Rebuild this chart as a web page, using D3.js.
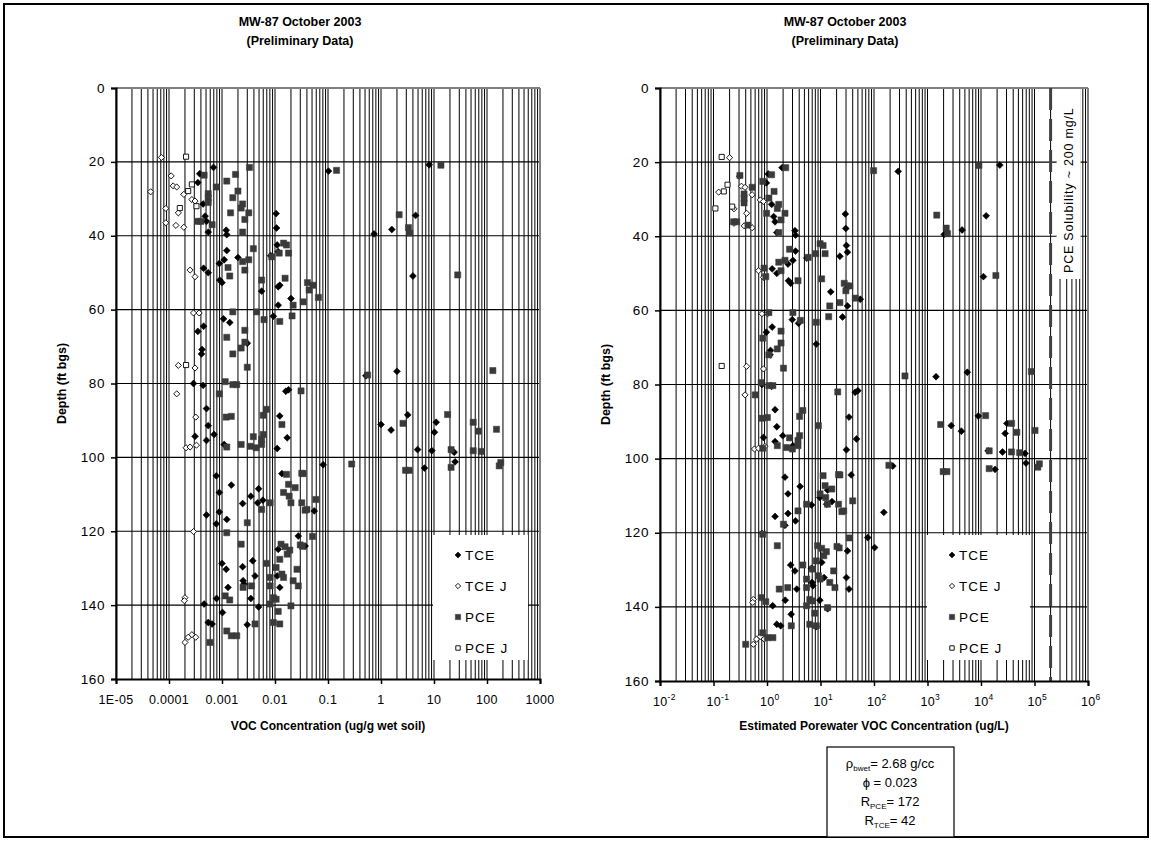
<!DOCTYPE html>
<html>
<head>
<meta charset="utf-8">
<script src="https://cdn.jsdelivr.net/npm/d3@7"></script>
<style>
  body { margin: 0; background: #fff; }
  svg { display: block; font-family: "Liberation Sans", Arial, sans-serif; }
</style>
</head>
<body>
<svg id="chart" width="1151" height="842"></svg>
<script>
// soil concentrations: [ug/g wet soil, depth ft]
const tce = [
  [3.8e-4, 23.2], [3.5e-4, 25.6], [4.4e-4, 31.4], [4.8e-4, 34.7], [5.1e-4, 36.1], [5.5e-4, 39.0],
  [6.9e-4, 21.5], [1.2e-3, 38.5], [1.23e-3, 39.7], [1.23e-3, 44.0], [2.0e-3, 45.9], [1.1e-3, 46.5],
  [8.9e-4, 47.5], [9.1e-4, 52.0], [1.0e-3, 52.7], [4.5e-4, 48.8], [5.5e-4, 50.0], [1.05e-2, 34.0],
  [1.07e-2, 37.9], [1.1e-2, 42.5], [1.15e-2, 44.3], [8.3e-3, 45.4], [1.23e-2, 53.4], [1.15e-2, 53.8],
  [5.6e-3, 55.0], [2.0e-2, 57.0], [1.15e-2, 58.8], [9.3e-3, 61.8], [1.07e-3, 62.5], [1.4e-3, 63.5],
  [4.5e-4, 64.5], [3.5e-4, 65.9], [3.0e-3, 69.1], [0.102, 22.5], [8.1, 20.8], [4.5, 34.5],
  [1.6, 38.3], [0.74, 39.5], [4.0, 50.9], [2.0, 76.7], [0.52, 77.9], [1.0, 91.1],
  [1.55, 92.6], [3.2, 88.5], [11, 90.5], [10.2, 93.2], [4.9, 97.9], [9.1, 98.2],
  [24, 98.6], [25, 101.2], [6.6, 102.9], [0.081, 102.0], [0.055, 114.5], [4.2e-4, 70.8],
  [4.1e-4, 72.0], [2.9e-4, 80.0], [4.4e-4, 80.5], [5.1e-4, 86.8], [5.5e-4, 91.4], [7.1e-4, 93.8],
  [3.1e-4, 94.3], [5.1e-4, 95.4], [1.1e-3, 96.5], [7.8e-4, 105.0], [1.5e-3, 107.5], [8.9e-4, 109.5],
  [2.45e-3, 112.5], [3.5e-3, 110.5], [4.9e-3, 108.5], [4.7e-3, 112.3], [5.9e-3, 111.6], [5.1e-4, 115.6],
  [8.9e-4, 114.8], [1.23e-3, 116.8], [7.8e-4, 118.0], [1.35e-2, 104.4], [1.1e-2, 97.6], [1.23e-2, 88.8],
  [1.7e-2, 94.7], [1.6e-2, 82.1], [1.8e-2, 81.7], [2.75e-2, 121.3], [3.7e-2, 124.0], [1.15e-2, 124.9],
  [1.23e-2, 135.2], [1.1e-2, 132.1], [1.0e-3, 128.7], [1.2e-3, 130.3], [1.3e-3, 135.2], [2.45e-3, 129.6],
  [2.5e-3, 133.4], [2.6e-3, 134.3], [3.8e-3, 128.0], [4.2e-3, 132.1], [4.9e-3, 140.5], [3.5e-3, 138.2],
  [4.6e-4, 139.7], [7.9e-4, 138.2], [1.02e-3, 142.0], [5.5e-4, 144.7], [6.5e-4, 145.1], [3.0e-3, 145.3]
];
const tceJ = [
  [7.2e-5, 18.8], [1.1e-4, 23.8], [4.5e-5, 28.1], [1.2e-4, 26.5], [1.4e-4, 26.8], [1.9e-4, 28.8],
  [2.7e-4, 30.2], [3.1e-4, 30.6], [1.5e-4, 33.8], [8.7e-5, 32.6], [8.7e-5, 36.5], [1.35e-4, 37.2],
  [1.9e-4, 37.7], [2.5e-4, 49.3], [3.1e-4, 51.1], [2.9e-4, 60.9], [3.7e-4, 60.9], [1.5e-4, 75.1],
  [3.1e-4, 75.8], [1.4e-4, 82.8], [3.2e-4, 89.1], [2.1e-4, 97.4], [2.5e-4, 97.2], [3.3e-4, 96.7],
  [2.9e-4, 120.1], [2.0e-4, 138.0], [1.95e-4, 138.8], [2.0e-4, 150.1], [2.3e-4, 148.7], [2.7e-4, 148.0],
  [3.2e-4, 148.7]
];
const pce = [
  [4.6e-4, 23.6], [5.5e-4, 28.6], [5.5e-4, 29.8], [5.5e-4, 31.0], [7.8e-4, 26.8], [1.23e-3, 25.2],
  [1.8e-3, 23.4], [3.3e-3, 21.5], [2.0e-3, 27.9], [1.6e-3, 29.7], [2.45e-3, 31.4], [2.3e-3, 32.5],
  [1.45e-3, 33.8], [3.2e-3, 33.8], [2.7e-3, 35.6], [3.5e-4, 36.1], [4.0e-4, 36.1], [6.5e-4, 37.0],
  [2.45e-3, 39.0], [3.9e-3, 43.5], [2.45e-3, 47.0], [3.2e-3, 46.5], [2.7e-3, 49.3], [1.3e-3, 48.6],
  [1.4e-3, 50.9], [8.7e-3, 45.7], [1.2e-2, 44.7], [1.45e-2, 42.0], [1.65e-2, 42.5], [1.8e-2, 44.7],
  [1.55e-2, 51.5], [5.6e-3, 52.0], [4.1e-2, 52.7], [5.2e-2, 53.4], [4.4e-2, 54.7], [6.6e-2, 56.7],
  [3.4e-2, 57.9], [2.2e-2, 58.8], [2.1e-2, 61.7], [1.23e-2, 63.2], [6.2e-3, 62.7], [4.5e-3, 60.6],
  [1.6e-3, 60.6], [1.23e-3, 67.5], [2.7e-3, 65.6], [2.7e-3, 68.8], [0.145, 22.3], [13.5, 20.9],
  [2.2, 34.3], [3.3, 37.8], [3.5, 39.3], [28, 50.6], [3.1e-2, 82.0], [0.56, 77.7],
  [129, 76.5], [2.6, 90.8], [18, 88.4], [55, 90.5], [69, 92.9], [151, 92.4],
  [21, 97.9], [55, 98.2], [78, 98.4], [21, 102.7], [182, 101.4], [170, 102.3],
  [2.9, 103.5], [3.4, 103.5], [0.28, 101.8], [3.2e-2, 104.3], [3.2e-2, 112.3], [3.7e-2, 114.3],
  [5.9e-2, 111.4], [5.1e-2, 121.4], [3.3e-2, 124.1], [1.6e-3, 72.0], [2.3e-3, 70.4], [3.0e-3, 75.6],
  [1.15e-3, 79.5], [8.9e-4, 82.8], [1.6e-3, 80.3], [1.9e-3, 80.3], [1.2e-3, 89.1], [1.5e-3, 88.9],
  [6.9e-3, 87.0], [6.0e-3, 88.6], [1.35e-2, 91.1], [3.9e-3, 94.4], [6.0e-3, 93.8], [5.6e-3, 95.1],
  [2.3e-3, 96.5], [1.23e-3, 97.2], [3.4e-3, 97.0], [4.4e-3, 97.4], [5.6e-3, 96.5], [3.4e-2, 104.4],
  [1.65e-2, 104.6], [1.8e-2, 107.3], [2.4e-2, 108.2], [1.45e-2, 109.5], [1.85e-2, 110.5], [8.1e-3, 112.3],
  [5.6e-3, 114.1], [2.0e-2, 112.3], [4.0e-2, 114.1], [3.0e-3, 117.7], [1.23e-3, 120.4], [3.0e-2, 123.7],
  [1.3e-2, 123.5], [1.55e-2, 124.2], [1.9e-2, 125.1], [1.7e-2, 126.2], [1.23e-2, 127.6], [1.05e-2, 129.8],
  [1.35e-2, 131.6], [1.45e-2, 132.5], [2.2e-2, 133.4], [2.6e-2, 130.3], [2.75e-2, 134.8], [2.0e-2, 140.2],
  [8.1e-3, 132.5], [6.9e-3, 128.7], [8.1e-3, 134.8], [9.3e-3, 138.0], [1.05e-2, 138.4], [8.1e-3, 139.7],
  [1.15e-2, 141.7], [9.3e-3, 144.7], [1.23e-2, 145.1], [3.6e-3, 134.8], [2.5e-3, 135.2], [4.2e-3, 145.1],
  [2.3e-3, 123.5], [1.15e-3, 137.5], [1.4e-3, 138.6], [1.23e-3, 147.0], [1.5e-3, 148.3], [1.9e-3, 148.3],
  [5.9e-4, 150.1]
];
const pceJ = [
  [2.1e-4, 18.6], [2.7e-4, 26.1], [2.3e-4, 27.9], [3.3e-4, 32.0], [1.6e-4, 32.5], [2.1e-4, 75.0]
];

const seriesNames = ["TCE", "TCE J", "PCE", "PCE J"];
const depthTicks = [0, 20, 40, 60, 80, 100, 120, 140, 160];
const soilTicks = [1e-5, 1e-4, 1e-3, 1e-2, 1e-1, 1, 10, 100, 1000];
const soilTickLabels = ["1E-05", "0.0001", "0.001", "0.01", "0.1", "1", "10", "100", "1000"];
const poreExponents = [-2, -1, 0, 1, 2, 3, 4, 5, 6];

// parameters printed in the box under the right panel
const rhoBwet = 2.68, porosity = 0.023, rPCE = 172, rTCE = 42;
const pceSolubility = 2e5; // ug/L (~200 mg/L)

// porewater (ug/L) = soil (ug/g) * rho_b * 1000 / (phi * R)
const toPore = (rows, R) => rows.map(([c, d]) => [c * rhoBwet * 1000 / (porosity * R), d]);

const svg = d3.select("#chart");
const font = '"Liberation Sans", Arial, sans-serif';

svg.append("rect")
  .attr("x", 4).attr("y", 4).attr("width", 1144).attr("height", 833)
  .attr("fill", "none").attr("stroke", "#000").attr("stroke-width", 2);

const markers = {
  "TCE":   { type: d3.symbolDiamond2, size: 30, fill: "#000", stroke: "#000", sw: 0.6 },
  "TCE J": { type: d3.symbolDiamond2, size: 24, fill: "#fff", stroke: "#000", sw: 0.9 },
  "PCE":   { type: d3.symbolSquare, size: 38, fill: "#3a3a3a", stroke: "#3a3a3a", sw: 0.5 },
  "PCE J": { type: d3.symbolSquare, size: 26, fill: "#fff", stroke: "#000", sw: 0.9 }
};

function drawPanel(p) {
  const x = d3.scaleLog().domain(p.domain).range([p.left, p.right]);
  const y = d3.scaleLinear().domain([0, 160]).range([p.top, p.bottom]);
  const g = svg.append("g");

  // vertical grid: 1..9 in every decade
  const gridVals = [];
  const lo = Math.round(Math.log10(p.domain[0])), hi = Math.round(Math.log10(p.domain[1]));
  for (let e = lo; e < hi; e++) {
    for (let k = 1; k < 10; k++) gridVals.push(k * Math.pow(10, e));
  }
  g.append("g").selectAll("line").data(gridVals).join("line")
    .attr("x1", d => x(d)).attr("x2", d => x(d))
    .attr("y1", p.top).attr("y2", p.bottom)
    .attr("stroke", "#000").attr("stroke-width", 1);

  g.append("g").selectAll("line").data(depthTicks.slice(1, -1)).join("line")
    .attr("x1", p.left).attr("x2", p.right)
    .attr("y1", d => y(d)).attr("y2", d => y(d))
    .attr("stroke", "#000").attr("stroke-width", 1.2);

  // top and right borders are grey
  g.append("line").attr("x1", p.left).attr("x2", p.right).attr("y1", p.top).attr("y2", p.top)
    .attr("stroke", "#808080").attr("stroke-width", 2);
  g.append("line").attr("x1", p.right).attr("x2", p.right).attr("y1", p.top).attr("y2", p.bottom)
    .attr("stroke", "#808080").attr("stroke-width", 2);

  // solubility line (right panel only)
  if (p.solubility) {
    g.append("line")
      .attr("x1", x(p.solubility)).attr("x2", x(p.solubility))
      .attr("y1", p.top).attr("y2", p.bottom)
      .attr("stroke", "#404040").attr("stroke-width", 3)
      .attr("stroke-dasharray", "22,9");
    g.append("rect")
      .attr("x", x(p.solubility) + 6).attr("y", p.top + 1)
      .attr("width", 24).attr("height", 190).attr("fill", "#fff");
    g.append("text")
      .attr("transform", `translate(${x(p.solubility) + 18},${p.top + 185}) rotate(-90)`)
      .attr("dominant-baseline", "central")
      .attr("font-size", 12.5).attr("letter-spacing", 0.8)
      .text("PCE Solubility ~ 200 mg/L");
  }

  // axes
  g.append("g").attr("transform", `translate(${p.left},0)`)
    .call(d3.axisLeft(y).tickValues(depthTicks).tickSize(5).tickFormat(""))
    .call(a => a.select(".domain").attr("stroke-width", 2))
    .call(a => a.selectAll(".tick line").attr("stroke-width", 1.5));
  g.append("g").attr("transform", `translate(0,${p.bottom})`)
    .call(d3.axisBottom(x).tickValues(p.ticks).tickSize(5).tickFormat(""))
    .call(a => a.select(".domain").attr("stroke-width", 2))
    .call(a => a.selectAll(".tick line").attr("stroke-width", 1.5));

  g.append("g").selectAll("text").data(depthTicks).join("text")
    .attr("x", p.left - 11).attr("y", d => y(d))
    .attr("text-anchor", "end").attr("dominant-baseline", "central")
    .attr("font-size", 13.5).attr("letter-spacing", 0.6)
    .text(d => d);

  const xl = g.append("g").selectAll("text").data(p.ticks).join("text")
    .attr("x", d => x(d)).attr("y", p.bottom + 25)
    .attr("text-anchor", "middle")
    .attr("font-size", 12.5).attr("letter-spacing", 0.3);
  p.tickText(xl);

  // markers
  p.series.forEach((rows, i) => {
    const m = markers[seriesNames[i]];
    g.append("g").selectAll("path").data(rows).join("path")
      .attr("transform", d => `translate(${x(d[0])},${y(d[1])})`)
      .attr("d", d3.symbol(m.type, m.size))
      .attr("fill", m.fill).attr("stroke", m.stroke).attr("stroke-width", m.sw);
  });

  // legend
  const lg = g.append("g");
  lg.append("rect").attr("x", p.legend.x).attr("y", p.legend.y)
    .attr("width", p.legend.w).attr("height", 125).attr("fill", "#fff");
  seriesNames.forEach((name, i) => {
    const m = markers[name];
    const cy = p.legend.y + 20 + i * 31;
    lg.append("path")
      .attr("transform", `translate(${p.legend.x + 25},${cy})`)
      .attr("d", d3.symbol(m.type, m.size * 0.75))
      .attr("fill", m.fill).attr("stroke", m.stroke).attr("stroke-width", m.sw);
    lg.append("text").attr("x", p.legend.x + 32).attr("y", cy)
      .attr("dominant-baseline", "central")
      .attr("font-size", 13.5).attr("letter-spacing", 1)
      .text(name);
  });

  // titles
  const cx = p.titleX;
  svg.append("text").attr("x", cx).attr("y", 26).attr("text-anchor", "middle")
    .attr("font-size", 12.5).attr("font-weight", "bold").text("MW-87 October 2003");
  svg.append("text").attr("x", cx).attr("y", 45).attr("text-anchor", "middle")
    .attr("font-size", 12.5).attr("font-weight", "bold").text("(Preliminary Data)");

  svg.append("text").attr("x", (p.left + p.right) / 2).attr("y", 730)
    .attr("text-anchor", "middle").attr("font-size", 12).attr("font-weight", "bold")
    .text(p.xTitle);
  svg.append("text")
    .attr("transform", `translate(${p.left - 50},${(p.top + p.bottom) / 2}) rotate(-90)`)
    .attr("text-anchor", "middle").attr("font-size", 12.5).attr("font-weight", "bold")
    .text("Depth (ft bgs)");
}

drawPanel({
  left: 116, right: 540, top: 88, bottom: 679,
  domain: [1e-5, 1000], ticks: soilTicks,
  tickText: sel => sel.text((d, i) => soilTickLabels[i]),
  series: [tce, tceJ, pce, pceJ],
  legend: { x: 433, y: 535, w: 95 },
  titleX: 300,
  xTitle: "VOC Concentration (ug/g wet soil)"
});

drawPanel({
  left: 660, right: 1088, top: 88, bottom: 681,
  domain: [1e-2, 1e6], ticks: poreExponents.map(e => Math.pow(10, e)),
  tickText: sel => sel.each(function (d, i) {
    const t = d3.select(this).attr("text-anchor", null).attr("dx", -7);
    t.append("tspan").text("10");
    t.append("tspan").attr("dy", -6).attr("font-size", 8.5).text(poreExponents[i]);
  }),
  series: [toPore(tce, rTCE), toPore(tceJ, rTCE), toPore(pce, rPCE), toPore(pceJ, rPCE)],
  legend: { x: 927, y: 535, w: 103 },
  solubility: pceSolubility,
  titleX: 845,
  xTitle: "Estimated Porewater VOC Concentration (ug/L)"
});

// parameter box
const box = svg.append("g");
box.append("rect").attr("x", 827).attr("y", 747).attr("width", 127).attr("height", 90)
  .attr("fill", "#fff").attr("stroke", "#000").attr("stroke-width", 1.2);
const bx = 890;
const l1 = box.append("text").attr("x", bx).attr("y", 768).attr("text-anchor", "middle").attr("font-size", 13);
l1.append("tspan").text("ρ");
l1.append("tspan").attr("font-size", 8).attr("dy", 3).text("bwet");
l1.append("tspan").attr("dy", -3).text("= " + rhoBwet + " g/cc");
box.append("text").attr("x", bx).attr("y", 787).attr("text-anchor", "middle").attr("font-size", 13)
  .text("ϕ = " + porosity);
const l3 = box.append("text").attr("x", bx).attr("y", 806).attr("text-anchor", "middle").attr("font-size", 13);
l3.append("tspan").text("R");
l3.append("tspan").attr("font-size", 8).attr("dy", 3).text("PCE");
l3.append("tspan").attr("dy", -3).text("= " + rPCE);
const l4 = box.append("text").attr("x", bx).attr("y", 825).attr("text-anchor", "middle").attr("font-size", 13);
l4.append("tspan").text("R");
l4.append("tspan").attr("font-size", 8).attr("dy", 3).text("TCE");
l4.append("tspan").attr("dy", -3).text("= " + rTCE);
</script>
</body>
</html>
